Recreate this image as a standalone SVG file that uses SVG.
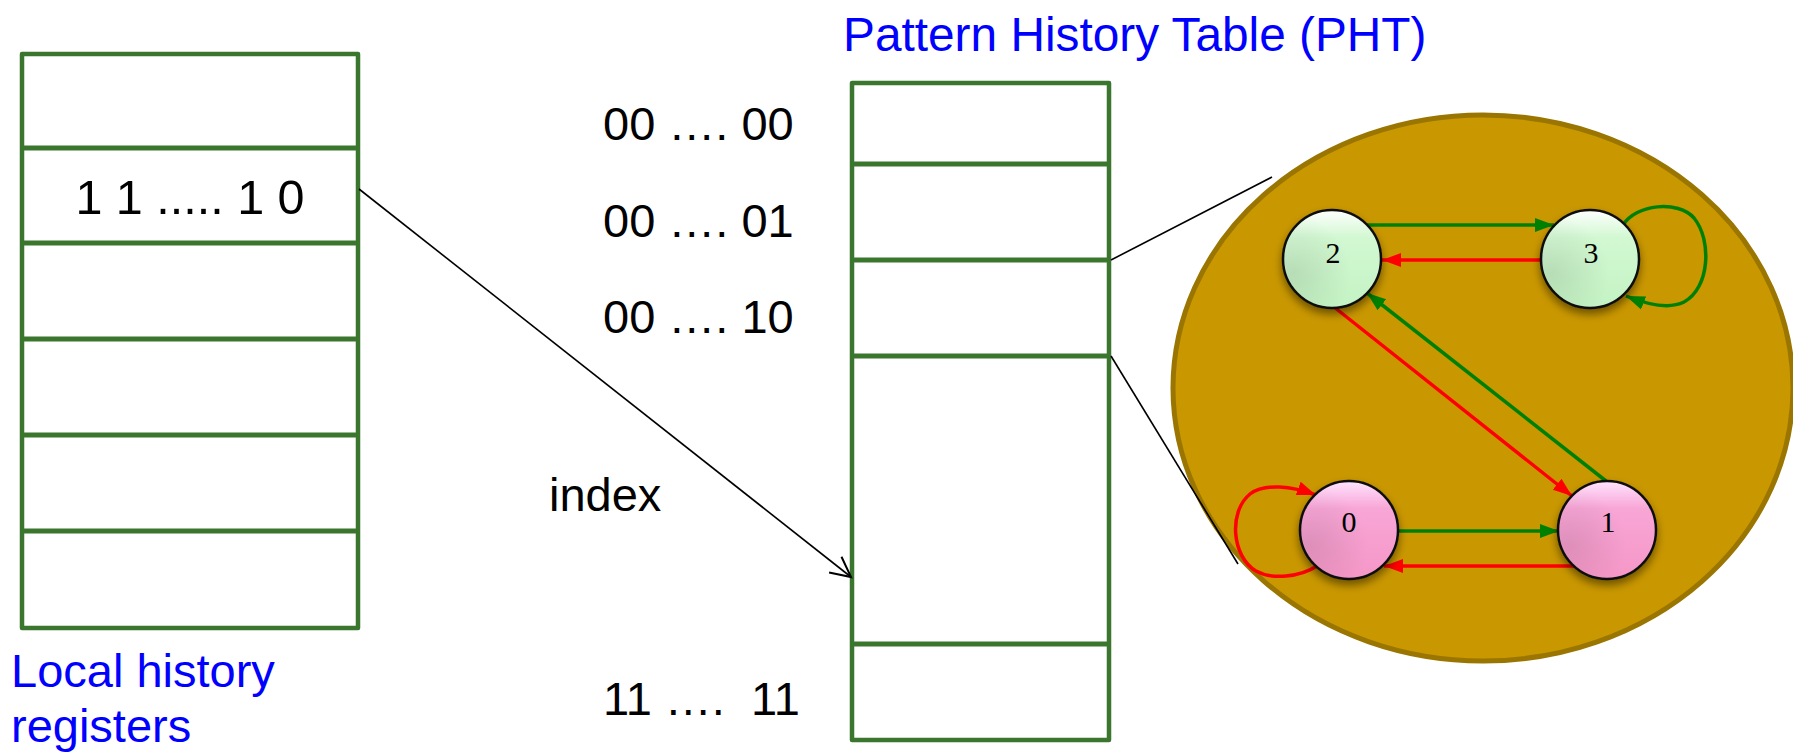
<svg xmlns="http://www.w3.org/2000/svg" width="1793" height="752" viewBox="0 0 1793 752">
<style>
.tbl{fill:#fff;stroke:#3A762E;stroke-width:4.5;stroke-linejoin:round}
.row{stroke:#3A762E;stroke-width:5}
.t{font-family:"Liberation Sans",Arial,sans-serif;font-size:47px;fill:#000;white-space:pre}
.blue{fill:#0000FF}
.num{font-family:"Liberation Serif","Times New Roman",serif;font-size:30px;fill:#000;text-anchor:middle}
.st{stroke:#111;stroke-width:2.5}
.g{stroke:#008000;stroke-width:3.5;fill:none}
.r{stroke:#FF0000;stroke-width:3.5;fill:none}
.k{stroke:#000;stroke-width:1.6;fill:none}
</style>
<defs>
<marker id="ag" markerUnits="userSpaceOnUse" markerWidth="22" markerHeight="18" refX="19" refY="9" orient="auto"><path d="M0,2 L19,9 L0,16 Z" fill="#008000"/></marker>
<marker id="ar" markerUnits="userSpaceOnUse" markerWidth="22" markerHeight="18" refX="19" refY="9" orient="auto"><path d="M0,2 L19,9 L0,16 Z" fill="#FF0000"/></marker>
<marker id="ak" markerUnits="userSpaceOnUse" markerWidth="26" markerHeight="26" refX="22" refY="13" orient="auto"><path d="M2,3 L22,13 L2,23" fill="none" stroke="#000" stroke-width="2"/></marker>
<linearGradient id="gg" x1="0" y1="0" x2="0" y2="1"><stop offset="0" stop-color="#FFFFFF"/><stop offset="0.28" stop-color="#D2F8D2"/><stop offset="1" stop-color="#C4F3C4"/></linearGradient>
<linearGradient id="pg" x1="0" y1="0" x2="0" y2="1"><stop offset="0" stop-color="#FFE4FF"/><stop offset="0.28" stop-color="#F8A6D6"/><stop offset="1" stop-color="#F597C7"/></linearGradient>
<radialGradient id="shade" cx="0.1" cy="0.65" r="0.6"><stop offset="0" stop-color="#000" stop-opacity="0.1"/><stop offset="1" stop-color="#000" stop-opacity="0"/></radialGradient>
<filter id="ds" x="-30%" y="-30%" width="160%" height="170%"><feDropShadow dx="0" dy="5" stdDeviation="4" flood-color="#000" flood-opacity="0.45"/></filter>
</defs>

<g id="local-history">
<rect class="tbl" x="22" y="54" width="336" height="574"/>
<line class="row" x1="22" y1="148" x2="358" y2="148"/>
<line class="row" x1="22" y1="243" x2="358" y2="243"/>
<line class="row" x1="22" y1="339" x2="358" y2="339"/>
<line class="row" x1="22" y1="435" x2="358" y2="435"/>
<line class="row" x1="22" y1="531" x2="358" y2="531"/>
<text class="t" x="190" y="214" text-anchor="middle" style="font-size:48.5px">1 1 ..... 1 0</text>
<text class="t blue" x="11" y="687">Local history</text>
<text class="t blue" x="11" y="742">registers</text>
</g>

<g id="pht">
<text class="t blue" x="843" y="51" style="font-size:47.8px">Pattern History Table (PHT)</text>
<rect class="tbl" x="852" y="83" width="257" height="657"/>
<line class="row" x1="852" y1="164" x2="1109" y2="164"/>
<line class="row" x1="852" y1="260" x2="1109" y2="260"/>
<line class="row" x1="852" y1="356" x2="1109" y2="356"/>
<line class="row" x1="852" y1="644" x2="1109" y2="644"/>
<text class="t" x="603" y="140">00 …. 00</text>
<text class="t" x="603" y="237">00 …. 01</text>
<text class="t" x="603" y="333">00 …. 10</text>
<text class="t" x="549" y="511">index</text>
<text class="t" x="603" y="715" xml:space="preserve">11 ….  11</text>
</g>

<g id="fsm">
<ellipse cx="1483" cy="388" rx="310" ry="273" fill="#C99700" stroke="#9A7500" stroke-width="5"/>
</g>

<g id="connectors">
<line class="k" x1="359" y1="189" x2="851" y2="577" marker-end="url(#ak)"/>
<line class="k" x1="1111" y1="260" x2="1272" y2="177"/>
<line class="k" x1="1111" y1="356" x2="1238" y2="564"/>
<line class="g" x1="1366" y1="225" x2="1554" y2="225" marker-end="url(#ag)"/>
<line class="r" x1="1541" y1="260" x2="1382" y2="260" marker-end="url(#ar)"/>
<path class="g" d="M1623,225 C1636,204 1678,200 1694,218 C1712,240 1710,288 1684,302 C1668,310 1646,304 1626,296" marker-end="url(#ag)"/>
<line class="r" x1="1334" y1="307" x2="1572" y2="496" marker-end="url(#ar)"/>
<line class="g" x1="1606" y1="481" x2="1367" y2="293" marker-end="url(#ag)"/>
<line class="g" x1="1398" y1="531" x2="1559" y2="531" marker-end="url(#ag)"/>
<line class="r" x1="1578" y1="566" x2="1384" y2="566" marker-end="url(#ar)"/>
<path class="r" d="M1317,566 C1300,577 1272,580 1256,571 C1232,557 1228,512 1250,494 C1264,483 1292,486 1316,495" marker-end="url(#ar)"/>
</g>

<g id="state2">
<circle cx="1332" cy="259" r="49" fill="url(#gg)" class="st" filter="url(#ds)"/>
<circle cx="1332" cy="259" r="48" fill="url(#shade)"/>
<text class="num" x="1333" y="263">2</text>
</g>
<g id="state3">
<circle cx="1590" cy="259" r="49" fill="url(#gg)" class="st" filter="url(#ds)"/>
<circle cx="1590" cy="259" r="48" fill="url(#shade)"/>
<text class="num" x="1591" y="263">3</text>
</g>
<g id="state0">
<circle cx="1349" cy="530" r="49" fill="url(#pg)" class="st" filter="url(#ds)"/>
<circle cx="1349" cy="530" r="48" fill="url(#shade)"/>
<text class="num" x="1349" y="532">0</text>
</g>
<g id="state1">
<circle cx="1607" cy="530" r="49" fill="url(#pg)" class="st" filter="url(#ds)"/>
<circle cx="1607" cy="530" r="48" fill="url(#shade)"/>
<text class="num" x="1608" y="532">1</text>
</g>
</svg>
